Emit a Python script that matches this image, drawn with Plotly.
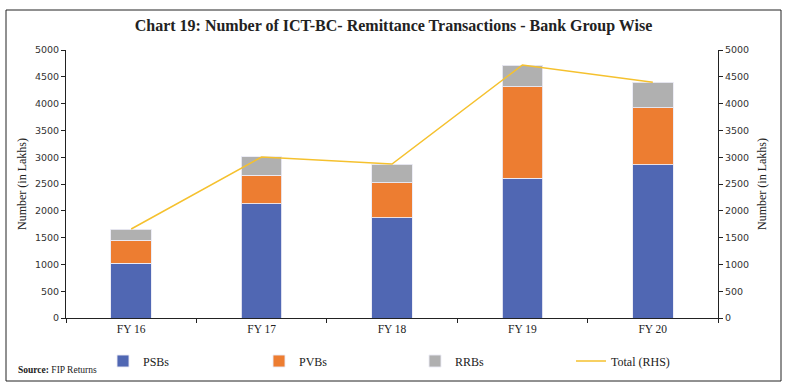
import plotly.graph_objects as go

categories = ["FY 16", "FY 17", "FY 18", "FY 19", "FY 20"]
psbs = [1026, 2127, 1871, 2612, 2860]
pvbs = [429, 541, 653, 1703, 1064]
rrbs = [205, 336, 349, 405, 473]
total = [1660, 3004, 2873, 4720, 4397]

FONT = "Liberation Serif"
fig = go.Figure()
bar_line = dict(color="rgba(235,235,245,0.9)", width=1)
fig.add_trace(go.Bar(x=categories, y=psbs, name="PSBs", marker=dict(color="#5067B3", line=bar_line)))
fig.add_trace(go.Bar(x=categories, y=pvbs, name="PVBs", marker=dict(color="#ED7D31", line=bar_line)))
fig.add_trace(go.Bar(x=categories, y=rrbs, name="RRBs", marker=dict(color="#B0B0B0", line=bar_line)))
fig.add_trace(go.Scatter(x=categories, y=total, name="Total (RHS)", mode="lines",
                         line=dict(color="#F5C12E", width=1.5), yaxis="y2"))

L, R, T, B = 66, 718, 50, 318
W, H = 787, 388
pw, ph = R - L, B - T

def px(x):
    return (x - L) / pw

def py(y):
    return (B - y) / ph

fig.update_layout(
    width=W, height=H,
    margin=dict(l=L, r=W - R, t=T, b=H - B),
    paper_bgcolor="white", plot_bgcolor="white",
    barmode="stack", bargap=0.69,
    font=dict(family=FONT, size=11, color="#222"),
    title=dict(text="<b>Chart 19: Number of ICT-BC- Remittance Transactions - Bank Group Wise</b>",
               x=0.5, xanchor="center", y=1 - 25 / H, yanchor="middle",
               font=dict(family=FONT, size=16, color="#222")),
    xaxis=dict(showline=True, linecolor="#222", linewidth=1, ticks="outside", tickson="boundaries",
               ticklen=4, tickcolor="#222", showgrid=False,
               tickfont=dict(family=FONT, size=11.5)),
    yaxis=dict(range=[0, 5000], dtick=500, showline=True, linecolor="#222", linewidth=1,
               ticks="outside", ticklen=4, tickcolor="#222", showgrid=False, zeroline=False,
               tickfont=dict(family="DejaVu Sans", size=9.5, color="#333"),
               title=dict(text="Number (in Lakhs)", font=dict(family=FONT, size=12), standoff=5)),
    yaxis2=dict(range=[0, 5000], dtick=500, overlaying="y", side="right", showline=True,
                linecolor="#222", linewidth=1, ticks="outside", ticklen=4, tickcolor="#222",
                showgrid=False, zeroline=False,
                tickfont=dict(family="DejaVu Sans", size=9.5, color="#333"),
                title=dict(text="Number (in Lakhs)", font=dict(family=FONT, size=12), standoff=9)),
    legend=dict(orientation="h", x=px(103), xanchor="left",
                y=py(361), yanchor="middle",
                entrywidth=111, entrywidthmode="pixels", font=dict(family=FONT, size=12),
                traceorder="normal", itemwidth=30, bgcolor="rgba(0,0,0,0)"),
    showlegend=True,
)

fig.add_shape(type="rect", xref="paper", yref="paper",
              x0=px(6), x1=px(781), y0=py(381), y1=py(10),
              line=dict(color="#222", width=1), fillcolor="rgba(0,0,0,0)", layer="above")

fig.add_annotation(xref="paper", yref="paper", x=px(16), y=py(370), xanchor="left", yanchor="middle",
                   text="<b>Source:</b> FIP Returns", showarrow=False,
                   font=dict(family=FONT, size=9.5, color="#222"))

fig.write_html("out.html", config={"displayModeBar": False},
               post_script="document.body.style.margin='0';document.body.style.padding='0';")
